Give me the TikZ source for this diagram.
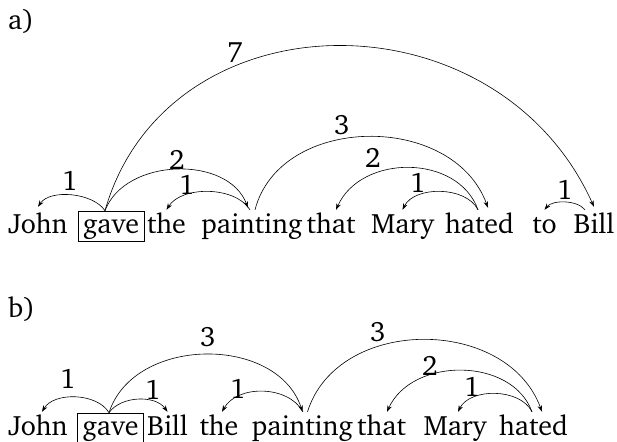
\documentclass[tikz,border=0pt]{standalone}
\usepackage[T1]{fontenc}
\usepackage{charter}
\usetikzlibrary{arrows.meta}
\begin{document}
\begin{tikzpicture}[x=1pt,y=-1pt,
  font=\fontsize{28}{32}\selectfont,
  word/.style={anchor=base, inner sep=0pt, text height=23pt, text depth=7pt},
  boxed/.style={anchor=base, draw, line width=0.7pt, inner xsep=4pt, inner ysep=0pt, text height=22pt, text depth=8pt, minimum width=66pt},
  dep/.style={-{Stealth[length=6.5pt,width=4.5pt]}, line width=0.6pt},
  lab/.style={inner sep=0pt}]
\useasboundingbox (0,0) rectangle (617,441);
% ---------- a)
\node[anchor=base west, inner sep=0pt] (la) at (8,30) {a)};
\node[word] (ajo) at (38,233) {John};
\node[boxed] (aga) at (111,233) {gave};
\node[word] (ath) at (166.5,233) {the};
\node[word] (apa) at (252,233) {painting};
\node[word] (atha) at (331,233) {that};
\node[word] (ama) at (402.5,233) {Mary};
\node[word] (aha) at (479.5,233) {hated};
\node[word] (ato) at (544.5,233) {to};
\node[word] (abi) at (594,233) {Bill};

\draw[dep] ([xshift=-6pt]aga.north) .. controls +(-12,-18) and +(12,-18) .. ([yshift=3pt]ajo.north);
\draw[dep] ([xshift=-6pt]aga.north) .. controls +(20,-53) and +(-20,-53) .. ([xshift=-4pt,yshift=2pt]apa.north);
\draw[dep] ([xshift=-2pt]apa.north) .. controls +(-15,-24) and +(15,-24) .. (ath.north);
\draw[dep] ([xshift=-6pt]aga.north) .. controls +(62,-217) and +(-98,-217) .. ([yshift=3pt]abi.north);
\draw[dep] ([xshift=3pt]apa.north) .. controls +(25,-96) and +(-35,-96) .. ([xshift=8.5pt,yshift=2pt]aha.north);
\draw[dep] ([xshift=-1.5pt]aha.north) .. controls +(-20,-56) and +(25,-56) .. ([xshift=5pt]atha.north);
\draw[dep] ([xshift=-1.5pt]aha.north) .. controls +(-12,-24) and +(12,-24) .. (ama.north);
\draw[dep] ([xshift=-9pt]abi.north) .. controls +(-8,-10) and +(8,-10) .. (ato.north);

\node[lab] (a7) at (235,53) {7};
\node[lab] (a1a) at (70,181) {1};
\node[lab] (a2a) at (177,160) {2};
\node[lab] (a1b) at (187,185) {1};
\node[lab] (a3) at (342,125) {3};
\node[lab] (a2b) at (373,158) {2};
\node[lab] (a1c) at (418,183) {1};
\node[lab] (a1d) at (565,190) {1};

% ---------- b)
\node[anchor=base west, inner sep=0pt] (lb) at (8,317) {b)};
\node[word] (bjo) at (38,435) {John};
\node[boxed] (bga) at (110.5,435) {gave};
\node[word] (bbi) at (167.5,435) {Bill};
\node[word] (bth) at (219,435) {the};
\node[word] (bpa) at (302.5,435) {painting};
\node[word] (btha) at (381.5,435) {that};
\node[word] (bma) at (455,435) {Mary};
\node[word] (bha) at (533.5,435) {hated};

\draw[dep] ([xshift=-1.5pt]bga.north) .. controls +(-12,-20) and +(12,-20) .. ([xshift=4pt]bjo.north);
\draw[dep] ([xshift=-1.5pt]bga.north) .. controls +(12,-17) and +(-12,-17) .. (bbi.north);
\draw[dep] ([xshift=-1.5pt]bga.north) .. controls +(25,-77) and +(-25,-77) .. (bpa.north);
\draw[dep] ([xshift=0.5pt]bpa.north) .. controls +(-15,-27) and +(15,-27) .. ([xshift=3pt]bth.north);
\draw[dep] ([xshift=5pt]bpa.north) .. controls +(30,-96) and +(-35,-96) .. ([xshift=8.5pt]bha.north);
\draw[dep] ([xshift=-1.5pt]bha.north) .. controls +(-20,-55) and +(25,-55) .. ([xshift=5.5pt]btha.north);
\draw[dep] ([xshift=-1.5pt]bha.north) .. controls +(-12,-24) and +(12,-24) .. ([xshift=3pt]bma.north);

\node[lab] (b1a) at (68,379) {1};
\node[lab] (b1b) at (153,390) {1};
\node[lab] (b3a) at (208,337) {3};
\node[lab] (b1c) at (238,389) {1};
\node[lab] (b3b) at (378,332) {3};
\node[lab] (b2) at (430,366) {2};
\node[lab] (b1d) at (472,387) {1};
\end{tikzpicture}
\end{document}
